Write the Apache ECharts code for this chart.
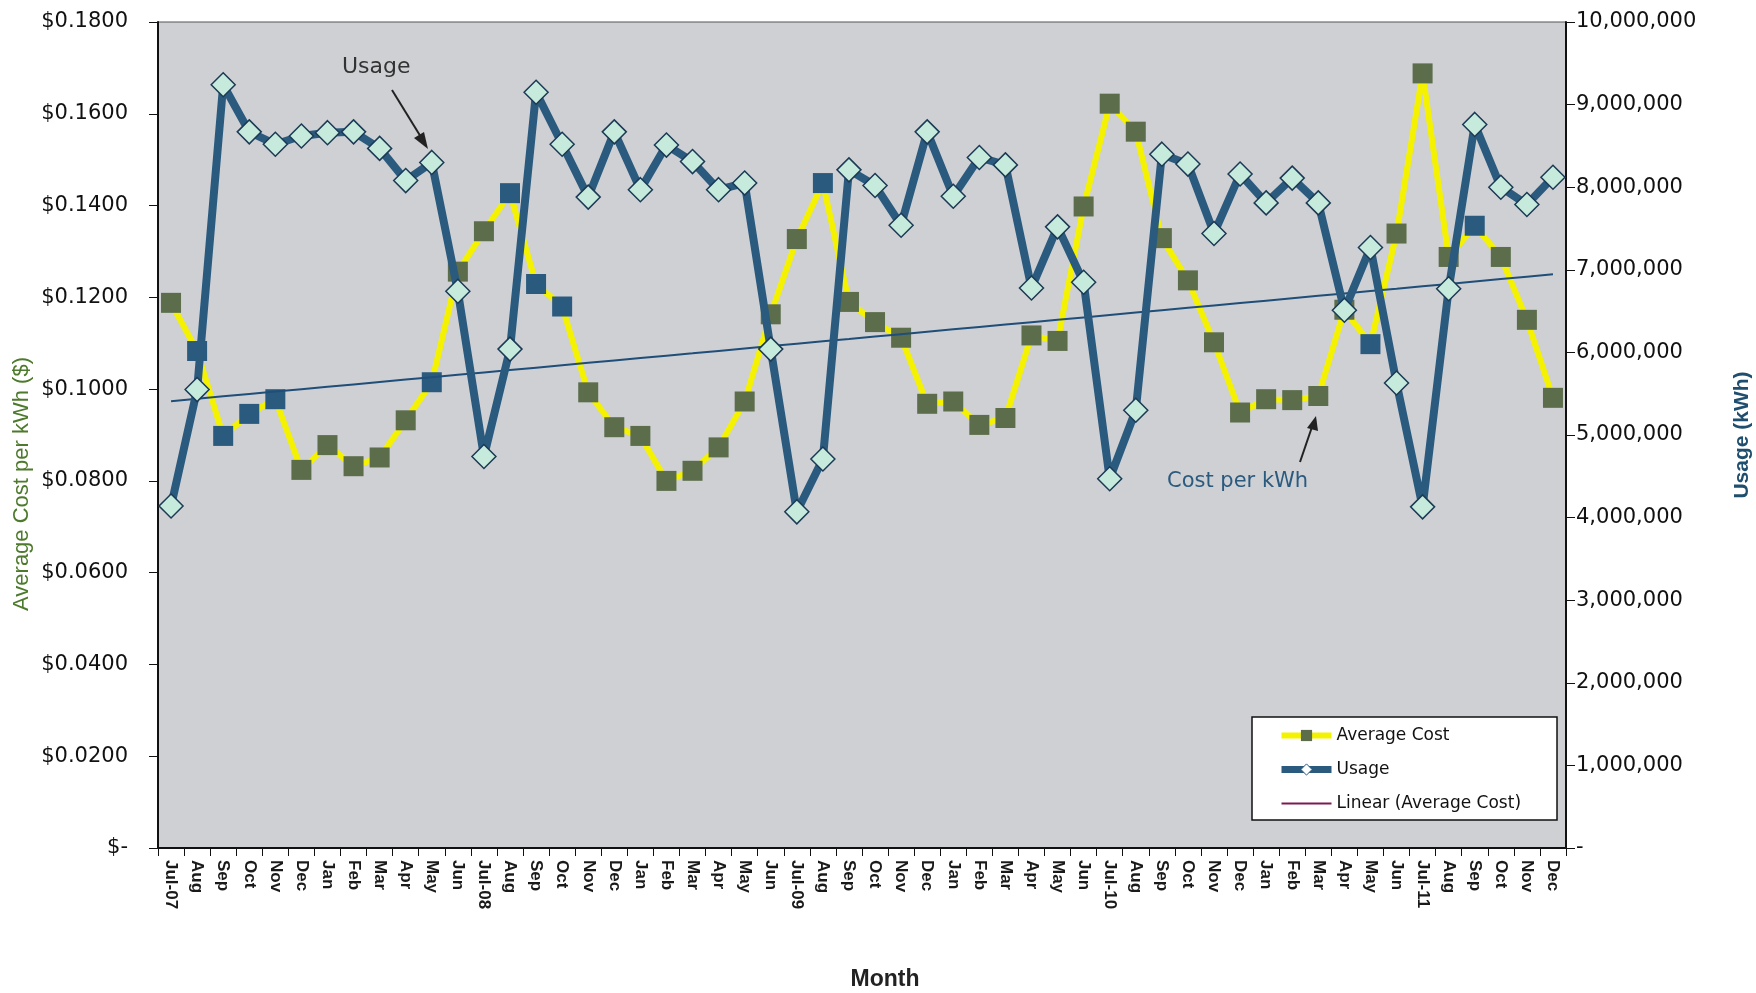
<!DOCTYPE html>
<html>
<head>
<meta charset="utf-8">
<script src="https://cdn.jsdelivr.net/npm/echarts@6/dist/echarts.min.js"></script>
<style>
  html, body { margin: 0; padding: 0; background: #fff; }
  #chart { width: 1756px; height: 993px; }
</style>
</head>
<body>
<div id="chart"></div>
<script>
const months = ['Jul-07', 'Aug', 'Sep', 'Oct', 'Nov', 'Dec', 'Jan', 'Feb', 'Mar', 'Apr', 'May', 'Jun',
    'Jul-08', 'Aug', 'Sep', 'Oct', 'Nov', 'Dec', 'Jan', 'Feb', 'Mar', 'Apr', 'May', 'Jun',
    'Jul-09', 'Aug', 'Sep', 'Oct', 'Nov', 'Dec', 'Jan', 'Feb', 'Mar', 'Apr', 'May', 'Jun',
    'Jul-10', 'Aug', 'Sep', 'Oct', 'Nov', 'Dec', 'Jan', 'Feb', 'Mar', 'Apr', 'May', 'Jun',
    'Jul-11', 'Aug', 'Sep', 'Oct', 'Nov', 'Dec'];

// average cost per kWh ($)
const avgCost = [0.1188, 0.1083, 0.0898, 0.0946, 0.0978, 0.0824, 0.0878, 0.0832, 0.0851, 0.0932, 0.1015, 0.1256,
    0.1344, 0.1427, 0.1229, 0.1180, 0.0993, 0.0917, 0.0898, 0.0800, 0.0822, 0.0873, 0.0973, 0.1163,
    0.1327, 0.1449, 0.1190, 0.1146, 0.1112, 0.0968, 0.0973, 0.0922, 0.0937, 0.1117, 0.1105, 0.1398,
    0.1622, 0.1561, 0.1329, 0.1237, 0.1102, 0.0949, 0.0978, 0.0976, 0.0985, 0.1173, 0.1098, 0.1339,
    0.1688, 0.1288, 0.1356, 0.1288, 0.1151, 0.0981];

// usage (kWh)
const usage = [4140000, 5550000, 9240000, 8670000, 8520000, 8620000, 8660000, 8670000, 8470000, 8080000, 8300000, 6740000,
    4740000, 6040000, 9150000, 8520000, 7880000, 8670000, 7970000, 8510000, 8310000, 7970000, 8050000, 6040000,
    4070000, 4710000, 8210000, 8020000, 7540000, 8670000, 7890000, 8360000, 8270000, 6780000, 7520000, 6850000,
    4470000, 5300000, 8400000, 8280000, 7440000, 8160000, 7810000, 8110000, 7810000, 6510000, 7270000, 5630000,
    4130000, 6770000, 8760000, 8000000, 7790000, 8120000];

const costTicks = [0, 0.18, 0.02];
const usageTicks = [0, 10000000, 1000000];

// cost markers that show up blue in the original
const blueCostMarks = [1, 2, 3, 4, 10, 13, 14, 15, 25, 46, 50];

// least squares trend of average cost
const n = avgCost.length;
let sx = 0, sy = 0, sxx = 0, sxy = 0;
avgCost.forEach((v, i) => { sx += i; sy += v; sxx += i * i; sxy += i * v; });
const slope = (n * sxy - sx * sy) / (n * sxx - sx * sx);
const intercept = (sy - slope * sx) / n;
const trend = avgCost.map((v, i) => +(intercept + slope * i).toFixed(5));

const font = 'Liberation Sans, Arial, sans-serif';
const wide = 'DejaVu Sans, Liberation Sans, sans-serif';
const yellow = '#f4f200';
const green = '#5b6d4a';
const blue = '#2b5a7f';

const costData = avgCost.map((v, i) => blueCostMarks.includes(i)
    ? { value: v, itemStyle: { color: blue } }
    : v);

const chart = echarts.init(document.getElementById('chart'));

const option = {
    animation: false,
    textStyle: { fontFamily: font },
    grid: {
        left: 158, right: 190, top: 22, bottom: 145,
        outerBoundsMode: 'none',
        show: true, backgroundColor: '#cfd0d4', borderColor: '#555', borderWidth: 1
    },
    legend: {
        orient: 'vertical',
        left: 1252, top: 717,
        backgroundColor: '#fff',
        borderColor: '#111', borderWidth: 1.5,
        padding: [10, 36, 8, 26],
        itemWidth: 50, itemHeight: 14, itemGap: 17,
        textStyle: { fontSize: 17, color: '#111', fontFamily: wide },
        data: [
            { name: 'Average Cost', lineStyle: { color: yellow, width: 6 }, itemStyle: { color: green } },
            { name: 'Usage', lineStyle: { color: blue, width: 7 }, itemStyle: { color: '#fff', borderColor: blue, borderWidth: 1 } },
            { name: 'Linear (Average Cost)', lineStyle: { color: '#7a1a55', width: 2 }, itemStyle: { opacity: 0 } }
        ]
    },
    xAxis: {
        type: 'category',
        data: months,
        boundaryGap: true,
        axisLine: { lineStyle: { color: '#111', width: 2 } },
        axisTick: { show: true, length: 8, lineStyle: { color: '#111' } },
        axisLabel: { rotate: -90, interval: 0, fontSize: 17, fontWeight: 'bold', color: '#1a1a1a', margin: 12 },
        splitLine: { show: false }
    },
    yAxis: [
        {
            type: 'value',
            min: costTicks[0], max: costTicks[1], interval: costTicks[2],
            position: 'left',
            axisLine: { show: true, lineStyle: { color: '#111', width: 2 } },
            axisTick: { show: true, length: 9, lineStyle: { color: '#111' } },
            axisLabel: {
                fontSize: 21, color: '#111', margin: 30, fontFamily: wide,
                formatter: v => v === 0 ? '$-' : '$' + v.toFixed(4)
            },
            splitLine: { show: false }
        },
        {
            type: 'value',
            min: usageTicks[0], max: usageTicks[1], interval: usageTicks[2],
            position: 'right',
            name: 'Usage (kWh)',
            nameLocation: 'middle',
            nameGap: 166,
            nameRotate: 90,
            nameTextStyle: { fontSize: 21, fontWeight: 'bold', color: '#1f4e6e' },
            axisLine: { show: true, lineStyle: { color: '#111', width: 2 } },
            axisTick: { show: true, length: 9, lineStyle: { color: '#111' } },
            axisLabel: {
                fontSize: 21, color: '#111', margin: 10, fontFamily: wide,
                formatter: v => v === 0 ? '-' : v.toLocaleString('en-US')
            },
            splitLine: { show: false }
        }
    ],
    series: [
        {
            name: 'Average Cost',
            type: 'line',
            yAxisIndex: 0,
            data: costData,
            symbol: 'rect',
            symbolSize: 20,
            lineStyle: { color: yellow, width: 6 },
            itemStyle: { color: green },
            z: 2
        },
        {
            name: 'Linear (Average Cost)',
            type: 'line',
            yAxisIndex: 0,
            data: trend,
            symbol: 'none',
            lineStyle: { color: '#1f4e79', width: 2 },
            itemStyle: { color: '#1f4e79' },
            z: 3
        },
        {
            name: 'Usage',
            type: 'line',
            yAxisIndex: 1,
            data: usage,
            symbol: 'diamond',
            symbolSize: 24,
            lineStyle: { color: blue, width: 8 },
            itemStyle: { color: '#c6eadb', borderColor: '#1b3a55', borderWidth: 1.5 },
            z: 4
        }
    ],
    graphic: [
        {
            type: 'text', x: 22, y: 484, rotation: Math.PI / 2, z: 100,
            style: { text: 'Average Cost per kWh ($)', fontSize: 22, fill: '#4d7a2c', fontFamily: font, textAlign: 'center', textVerticalAlign: 'middle' }
        },
        {
            type: 'text', x: 885, y: 980, z: 100,
            style: { text: 'Month', fontSize: 23, fontWeight: 'bold', fill: '#222', fontFamily: font, textAlign: 'center', textVerticalAlign: 'middle' }
        },
        {
            type: 'text', left: 342, top: 56, z: 100,
            style: { text: 'Usage', fontSize: 22, fill: '#333', fontFamily: wide }
        },
        {
            type: 'line', z: 100,
            shape: { x1: 392, y1: 90, x2: 424, y2: 142 },
            style: { stroke: '#222', lineWidth: 2 }
        },
        {
            type: 'polygon', z: 100,
            shape: { points: [[428, 149], [414, 138], [424, 132]] },
            style: { fill: '#222' }
        },
        {
            type: 'text', left: 1167, top: 471, z: 100,
            style: { text: 'Cost per kWh', fontSize: 21, fill: blue, fontFamily: wide }
        },
        {
            type: 'line', z: 100,
            shape: { x1: 1300, y1: 462, x2: 1313, y2: 424 },
            style: { stroke: '#222', lineWidth: 2 }
        },
        {
            type: 'polygon', z: 100,
            shape: { points: [[1316, 416], [1307, 428], [1318, 431]] },
            style: { fill: '#222' }
        }
    ]
};

chart.setOption(option);
</script>
</body>
</html>
